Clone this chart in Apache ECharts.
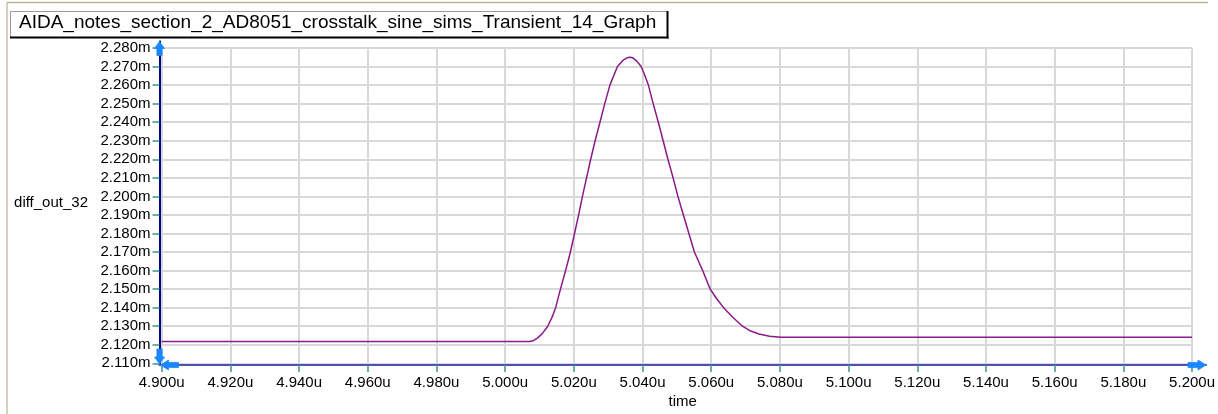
<!DOCTYPE html>
<html>
<head>
<meta charset="utf-8">
<title>AIDA_notes_section_2_AD8051_crosstalk_sine_sims_Transient_14_Graph</title>
<script src="https://cdn.jsdelivr.net/npm/echarts@6/dist/echarts.min.js"></script>
<style>
  html, body { margin: 0; padding: 0; background: #ffffff; }
  #chart { width: 1218px; height: 414px; }
</style>
</head>
<body>
<div id="chart"></div>
<script>
// Transient response of diff_out_32 (mV scale) around the crosstalk pulse
const graphTitle = 'AIDA_notes_section_2_AD8051_crosstalk_sine_sims_Transient_14_Graph';
const traceName = 'diff_out_32';
const xName = 'time';

// time in microseconds
const timeUs = [
  4.900, 4.950, 5.000, 5.0070, 5.0082, 5.0094, 5.0108, 5.0124, 5.0137, 5.0147,
  5.0161, 5.0176, 5.0190, 5.0202, 5.0214, 5.0225, 5.0237, 5.0249, 5.0262, 5.0276,
  5.0290, 5.0305, 5.0316, 5.0327, 5.0344, 5.0356, 5.0363, 5.0372, 5.0384, 5.0396,
  5.0407, 5.0417, 5.0431, 5.0446, 5.0460, 5.0474, 5.0489, 5.0503, 5.0519, 5.0535,
  5.0551, 5.0575, 5.0597, 5.0616, 5.0636, 5.0662, 5.0691, 5.0715, 5.0739, 5.0770,
  5.0802, 5.1000, 5.1500, 5.2000
];
// diff_out_32 in millivolts
const diffOut32 = [
  2.1217, 2.1217, 2.1217, 2.1217, 2.1222, 2.1236, 2.1260, 2.1300, 2.1350, 2.1400,
  2.1500, 2.1600, 2.1700, 2.1800, 2.1900, 2.2000, 2.2100, 2.2200, 2.2300, 2.2400,
  2.2500, 2.2600, 2.2650, 2.2700, 2.2735, 2.2748, 2.2750, 2.2747, 2.2728, 2.2700,
  2.2650, 2.2600, 2.2500, 2.2400, 2.2300, 2.2200, 2.2100, 2.2000, 2.1900, 2.1800,
  2.1700, 2.1600, 2.1500, 2.1448, 2.1400, 2.1350, 2.1300, 2.1274, 2.1258, 2.1246,
  2.1240, 2.1240, 2.1240, 2.1240
];

// axis ranges and tick spacing
const yMin = 2.110, yMax = 2.280, yStep = 0.010;
const xMin = 4.900, xMax = 5.200, xStep = 0.020;

const font = '"Liberation Sans", Arial, sans-serif';
const gridColor = '#d8d8d8';
const tickColor = '#3a9696';
const arrowColor = '#1a86ff';
const traceColor = '#8a1a8a';

const chart = echarts.init(document.getElementById('chart'), null, { renderer: 'canvas' });

const series = timeUs.map((t, i) => [t, diffOut32[i]]);

const hiddenParts = {
  axisLabel: { show: false }, axisTick: { show: false }, splitLine: { show: false }
};

const staticGraphics = [
  // panel edges
  { type: 'line', shape: { x1: 7, y1: 2.5, x2: 1208, y2: 2.5 }, style: { stroke: '#b6ae98', lineWidth: 1.5 }, silent: true },
  { type: 'line', shape: { x1: 7, y1: 2.5, x2: 7, y2: 414 }, style: { stroke: '#c4bfb0', lineWidth: 1.5 }, silent: true },
  // title box
  { type: 'rect', shape: { x: 10.5, y: 11.5, width: 657, height: 26 }, style: { fill: '#ffffff', stroke: '#9a9a9a', lineWidth: 1 }, silent: true },
  { type: 'line', shape: { x1: 667.5, y1: 11, x2: 667.5, y2: 38.5 }, style: { stroke: '#000', lineWidth: 2 }, silent: true },
  { type: 'line', shape: { x1: 10, y1: 37.5, x2: 668.5, y2: 37.5 }, style: { stroke: '#000', lineWidth: 2 }, silent: true },
  {
    type: 'text', x: 19, y: 23, silent: true,
    style: { text: graphTitle, fill: '#000', font: '19px ' + font, verticalAlign: 'middle' }
  }
];

chart.setOption({
  animation: false,
  textStyle: { fontFamily: font },
  grid: [
    // data area
    { left: 161.7, right: 18.7, top: 48, bottom: 50.7 },
    // frame area
    { left: 159.5, right: 12, top: 41.5, bottom: 49 }
  ],
  xAxis: [
    {
      type: 'value', gridIndex: 0, min: xMin, max: xMax, interval: xStep,
      position: 'bottom', offset: 1.7,
      axisLine: { show: false },
      axisTick: { show: true, length: 7, lineStyle: { color: tickColor, width: 1.5 } },
      axisLabel: {
        color: '#000', fontSize: 15, margin: 10, fontFamily: font,
        formatter: v => v.toFixed(3) + 'u'
      },
      splitLine: { show: true, lineStyle: { color: gridColor, width: 2 } }
    },
    {
      type: 'value', gridIndex: 1, min: 0, max: 1, position: 'bottom',
      name: xName, nameLocation: 'middle', nameGap: 29,
      nameTextStyle: { color: '#000', fontSize: 15, fontFamily: font },
      axisLine: { show: true, lineStyle: { color: '#9898c0', width: 2 } },
      ...hiddenParts
    },
    {
      type: 'value', gridIndex: 1, min: 0, max: 1, position: 'top',
      axisLine: { show: true, lineStyle: { color: '#5050b4', width: 2 } },
      ...hiddenParts
    }
  ],
  yAxis: [
    {
      type: 'value', gridIndex: 0, min: yMin, max: yMax, interval: yStep,
      position: 'left', offset: 2.2,
      axisLine: { show: false },
      axisTick: { show: true, length: 7, lineStyle: { color: tickColor, width: 1.5 } },
      axisLabel: {
        color: '#000', fontSize: 15, margin: 9, fontFamily: font,
        formatter: v => v.toFixed(3) + 'm'
      },
      splitLine: { show: true, lineStyle: { color: gridColor, width: 2 } }
    },
    {
      type: 'value', gridIndex: 1, min: 0, max: 1, position: 'left',
      name: traceName, nameLocation: 'middle', nameGap: 71.5, nameRotate: 0,
      nameTextStyle: { color: '#000', fontSize: 15, fontFamily: font },
      axisLine: { show: true, lineStyle: { color: '#8e8eb6', width: 2 } },
      ...hiddenParts
    },
    {
      type: 'value', gridIndex: 1, min: 0, max: 1, position: 'right',
      axisLine: { show: true, lineStyle: { color: '#00008c', width: 2 } },
      ...hiddenParts
    }
  ],
  series: [
    {
      type: 'line', xAxisIndex: 0, yAxisIndex: 0,
      data: series, showSymbol: false,
      lineStyle: { color: traceColor, width: 1.5 },
      z: 5
    }
  ],
  graphic: staticGraphics
});

// Blue cursor arrows at the frame corners, placed from the frame axes
const topLeft = chart.convertToPixel({ gridIndex: 1 }, [0, 1]);
const bottomLeft = chart.convertToPixel({ gridIndex: 1 }, [0, 0]);
const bottomRight = chart.convertToPixel({ gridIndex: 1 }, [1, 0]);

function upArrow(x, y) {
  return [[x, y], [x + 5, y + 7], [x + 2.6, y + 7], [x + 2.6, y + 14], [x - 2.6, y + 14], [x - 2.6, y + 7], [x - 5, y + 7]];
}
function downArrow(x, y) {
  return [[x, y], [x + 5, y - 7], [x + 2.6, y - 7], [x + 2.6, y - 15], [x - 2.6, y - 15], [x - 2.6, y - 7], [x - 5, y - 7]];
}
function leftArrow(x, y) {
  return [[x, y], [x + 8, y - 5], [x + 8, y - 2.6], [x + 18, y - 2.6], [x + 18, y + 2.6], [x + 8, y + 2.6], [x + 8, y + 5]];
}
function rightArrow(x, y) {
  return [[x, y], [x - 8, y - 5], [x - 8, y - 2.6], [x - 18, y - 2.6], [x - 18, y + 2.6], [x - 8, y + 2.6], [x - 8, y + 5]];
}
const arrowStyle = { fill: arrowColor, stroke: arrowColor, lineWidth: 0.8 };
chart.setOption({
  graphic: staticGraphics.concat([
    { type: 'polygon', shape: { points: upArrow(topLeft[0], topLeft[1]) }, style: arrowStyle, z: 20, silent: true },
    { type: 'polygon', shape: { points: downArrow(bottomLeft[0], bottomLeft[1] - 1) }, style: arrowStyle, z: 20, silent: true },
    { type: 'polygon', shape: { points: leftArrow(bottomLeft[0] + 1, bottomLeft[1]) }, style: arrowStyle, z: 20, silent: true },
    { type: 'polygon', shape: { points: rightArrow(bottomRight[0], bottomRight[1]) }, style: arrowStyle, z: 20, silent: true }
  ])
}, { replaceMerge: ['graphic'] });
</script>
</body>
</html>
